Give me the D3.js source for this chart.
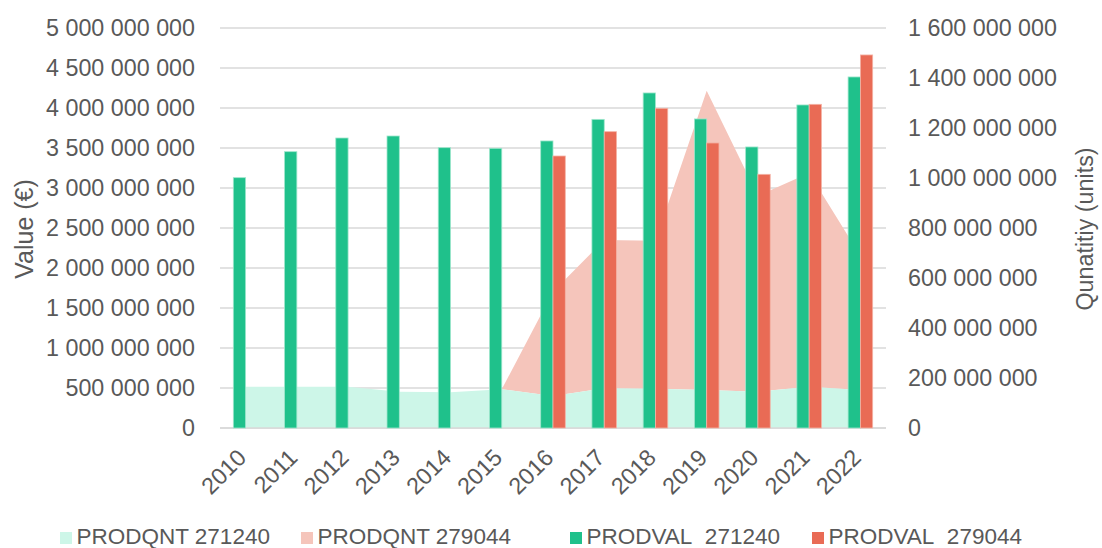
<!DOCTYPE html>
<html>
<head>
<meta charset="utf-8">
<script src="https://cdn.jsdelivr.net/npm/d3@7"></script>
<style>
  html, body { margin: 0; padding: 0; background: #fff; }
  svg { display: block; font-family: "Liberation Sans", Arial, sans-serif; }
</style>
</head>
<body>
<svg id="chart" width="1102" height="548"></svg>
<script>
// ---- Data ----
const years = ["2010","2011","2012","2013","2014","2015","2016","2017","2018","2019","2020","2021","2022"];
// Production values (EUR)
const prodval271240 = [3129e6, 3454e6, 3625e6, 3650e6, 3504e6, 3496e6, 3588e6, 3858e6, 4188e6, 3863e6, 3513e6, 4038e6, 4388e6];
const prodval279044 = [null, null, null, null, null, null, 3400e6, 3704e6, 3996e6, 3563e6, 3171e6, 4046e6, 4663e6];
// Production quantities (units), stacked areas
const prodqnt271240 = [165e6, 165e6, 165e6, 145e6, 143e6, 155e6, 128e6, 159e6, 157e6, 152e6, 145e6, 165e6, 152e6];
const prodqnt279044 = [0, 0, 0, 0, 0, 0, 417e6, 593e6, 592e6, 1197e6, 784e6, 855e6, 537e6];
const leftTicks = [0, 500e6, 1000e6, 1500e6, 2000e6, 2500e6, 3000e6, 3500e6, 4000e6, 4500e6, 5000e6];
const rightTicks = [0, 200e6, 400e6, 600e6, 800e6, 1000e6, 1200e6, 1400e6, 1600e6];
const legendLabels = ["PRODQNT 271240", "PRODQNT 279044", "PRODVAL\u00a0 271240", "PRODVAL\u00a0 279044"];

// ---- Styles ----
const colors = {
  qnt271240: "#cdf6e8",
  qnt279044: "#f5c5bb",
  val271240: "#1fc18b",
  val279044: "#e96b55"
};
const textColor = "#595959";
const gridColor = "#d9d9d9";

const svg = d3.select("#chart");
const pLeft = 220, pRight = 886, pTop = 28, pBottom = 428;

const x = d3.scaleBand().domain(years).range([pLeft, pRight]).padding(0);
const yL = d3.scaleLinear().domain([0, 5000e6]).range([pBottom, pTop]);
const yR = d3.scaleLinear().domain([0, 1600e6]).range([pBottom, pTop]);
const cx = d => x(d) + x.bandwidth() / 2;
const barW = x.bandwidth() * 0.24;

const fmt = v => d3.format(",")(v).replace(/,/g, " ");

// gridlines
svg.append("g").selectAll("line").data(leftTicks).join("line")
  .attr("x1", pLeft).attr("x2", pRight)
  .attr("y1", d => yL(d)).attr("y2", d => yL(d))
  .attr("stroke", gridColor).attr("stroke-width", 1.3);

// stacked areas
const rows = years.map((yr, i) => ({ year: yr, a: prodqnt271240[i], b: prodqnt279044[i] }));
const stack = d3.stack().keys(["a", "b"]);
const series = stack(rows);
const area = d3.area()
  .x(d => cx(d.data.year))
  .y0(d => yR(d[0]))
  .y1(d => yR(d[1]));
svg.append("path").datum(series[1]).attr("d", area).attr("fill", colors.qnt279044);
svg.append("path").datum(series[0]).attr("d", area).attr("fill", colors.qnt271240);

// bottom axis line
svg.append("line").attr("x1", pLeft).attr("x2", pRight)
  .attr("y1", yL(0)).attr("y2", yL(0))
  .attr("stroke", gridColor).attr("stroke-width", 1.3);

// bars
svg.append("g").selectAll("rect").data(years.map((yr, i) => ({ yr, v: prodval271240[i] })))
  .join("rect")
  .attr("x", d => cx(d.yr) - barW)
  .attr("width", barW)
  .attr("y", d => yL(d.v))
  .attr("height", d => yL(0) - yL(d.v))
  .attr("fill", colors.val271240)
  .attr("stroke", "#9fe6cc").attr("stroke-width", 0.8);

svg.append("g").selectAll("rect").data(years.map((yr, i) => ({ yr, v: prodval279044[i] })).filter(d => d.v != null))
  .join("rect")
  .attr("x", d => cx(d.yr))
  .attr("width", barW)
  .attr("y", d => yL(d.v))
  .attr("height", d => yL(0) - yL(d.v))
  .attr("fill", colors.val279044)
  .attr("stroke", "#f4b3a6").attr("stroke-width", 0.8);

// left axis labels
svg.append("g").selectAll("text").data(leftTicks).join("text")
  .attr("x", 195).attr("y", d => yL(d)).attr("dy", "0.35em")
  .attr("text-anchor", "end").attr("fill", textColor).attr("font-size", "23.3px")
  .text(d => fmt(d));

// right axis labels
svg.append("g").selectAll("text").data(rightTicks).join("text")
  .attr("x", 908).attr("y", d => yR(d)).attr("dy", "0.35em")
  .attr("text-anchor", "start").attr("fill", textColor).attr("font-size", "23.3px")
  .text(d => fmt(d));

// x labels
svg.append("g").selectAll("text").data(years).join("text")
  .attr("transform", d => `translate(${cx(d) + 2},459) rotate(-45)`)
  .attr("text-anchor", "end").attr("fill", textColor).attr("font-size", "23.3px")
  .text(d => d);

// axis titles
svg.append("text").attr("transform", "translate(33,229) rotate(-90)")
  .attr("text-anchor", "middle").attr("fill", textColor).attr("font-size", "25px")
  .text("Value (€)");
svg.append("text").attr("transform", "translate(1093,229) rotate(-90)")
  .attr("text-anchor", "middle").attr("fill", textColor).attr("font-size", "23.3px")
  .text("Qunatitiy (units)");

// legend
const legendColors = [colors.qnt271240, colors.qnt279044, colors.val271240, colors.val279044];
const legendX = [60, 301, 570, 812];
const lg = svg.append("g");
legendLabels.forEach((lab, i) => {
  lg.append("rect").attr("x", legendX[i]).attr("y", 532).attr("width", 12).attr("height", 12)
    .attr("fill", legendColors[i]);
  lg.append("text").attr("x", legendX[i] + 16.5).attr("y", 544.3)
    .attr("fill", textColor).attr("font-size", "22.5px").text(lab);
});
</script>
</body>
</html>
